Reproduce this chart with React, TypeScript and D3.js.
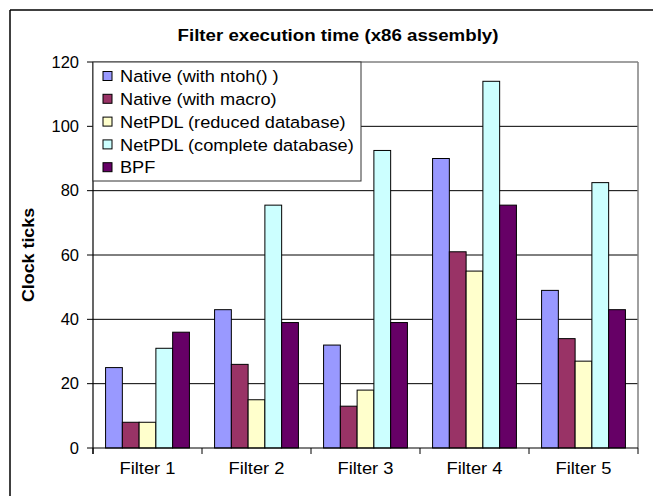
import React from "react";
import * as d3 from "d3";

const categories = ["Filter 1", "Filter 2", "Filter 3", "Filter 4", "Filter 5"];
const seriesNames = [
  "Native (with ntoh() )",
  "Native (with macro)",
  "NetPDL (reduced database)",
  "NetPDL (complete database)",
  "BPF",
];
const seriesColors = ["#9999FF", "#993366", "#FFFFCC", "#CCFFFF", "#660066"];
const nativeNtoh = [25, 43, 32, 90, 49];
const nativeMacro = [8, 26, 13, 61, 34];
const netpdlReduced = [8, 15, 18, 55, 27];
const netpdlComplete = [31, 75.5, 92.5, 114, 82.5];
const bpf = [36, 39, 39, 75.5, 43];
const yTicks = [0, 20, 40, 60, 80, 100, 120];
const title = "Filter execution time (x86 assembly)";
const yTitle = "Clock ticks";

const seriesValues = [nativeNtoh, nativeMacro, netpdlReduced, netpdlComplete, bpf];

const W = 653;
const H = 496;
const plot = { left: 93, right: 638, top: 62, bottom: 448 };
const FONT = "'Liberation Sans', Arial, sans-serif";

export default function App() {
  const x = d3.scaleBand<string>().domain(categories).range([plot.left, plot.right]).padding(0);
  const y = d3.scaleLinear().domain([0, 120]).range([plot.bottom, plot.top]);
  const bw = x.bandwidth() / (seriesNames.length + 1.5);
  const inner = d3
    .scaleBand<number>()
    .domain(d3.range(seriesNames.length))
    .range([0, bw * seriesNames.length]);
  const groupOffset = (x.bandwidth() - bw * seriesNames.length) / 2;
  const boundaries = categories.map((c) => x(c) as number).concat([plot.right]);

  return (
    <svg
      width={W}
      height={H}
      style={{ position: "absolute", left: 0, top: 0, background: "#fff" }}
      fontFamily={FONT}
    >
      <rect x={0} y={0} width={W} height={H} fill="#fff" />
      {/* outer chart border */}
      <line x1={10} y1={10} x2={W} y2={10} stroke="#000" strokeWidth={1.5} />
      <line x1={10} y1={10} x2={10} y2={H} stroke="#000" strokeWidth={1.5} />

      <text
        transform="translate(338,41) scale(1.1,1)"
        textAnchor="middle"
        fontWeight="bold"
        fontSize={17}
        fill="#000"
      >
        {title}
      </text>

      {/* gridlines */}
      {yTicks
        .filter((t) => t > 0 && t < 120)
        .map((t) => (
          <line key={t} x1={plot.left} x2={plot.right} y1={y(t)} y2={y(t)} stroke="#000" strokeWidth={1} />
        ))}
      {/* plot border top/right */}
      <line x1={plot.left} x2={plot.right} y1={plot.top} y2={plot.top} stroke="#808080" strokeWidth={1.5} />
      <line x1={plot.right} x2={plot.right} y1={plot.top} y2={plot.bottom} stroke="#808080" strokeWidth={1.5} />

      {/* bars */}
      {categories.map((c, ci) => (
        <g key={c}>
          {seriesValues.map((vals, si) => (
            <rect
              key={si}
              x={(x(c) as number) + groupOffset + (inner(si) as number)}
              y={y(vals[ci])}
              width={inner.bandwidth()}
              height={plot.bottom - y(vals[ci])}
              fill={seriesColors[si]}
              stroke="#000"
              strokeWidth={1}
            />
          ))}
        </g>
      ))}

      {/* y axis */}
      <line x1={plot.left} x2={plot.left} y1={plot.top} y2={plot.bottom + 6} stroke="#000" strokeWidth={1.2} />
      {yTicks.map((t) => (
        <g key={t}>
          <line x1={plot.left - 6} x2={plot.left} y1={y(t)} y2={y(t)} stroke="#000" strokeWidth={1} />
          <text x={79} y={y(t)} dy="0.35em" textAnchor="end" fontSize={16.5} fill="#000">
            {t}
          </text>
        </g>
      ))}
      {/* x axis */}
      <line x1={plot.left} x2={plot.right} y1={plot.bottom} y2={plot.bottom} stroke="#000" strokeWidth={1.2} />
      {boundaries.map((b, i) => (
        <line key={i} x1={b} x2={b} y1={plot.bottom} y2={plot.bottom + 6} stroke="#000" strokeWidth={1} />
      ))}
      {categories.map((c) => (
        <text
          key={c}
          transform={`translate(${(x(c) as number) + x.bandwidth() / 2},474) scale(1.08,1)`}
          textAnchor="middle"
          fontSize={17}
          fill="#000"
        >
          {c}
        </text>
      ))}

      <text
        transform={`translate(34,255) rotate(-90) scale(1.05,1)`}
        textAnchor="middle"
        fontWeight="bold"
        fontSize={17}
        fill="#000"
      >
        {yTitle}
      </text>

      {/* legend */}
      <rect x={plot.left} y={plot.top} width={268} height={119} fill="#fff" stroke="#333" strokeWidth={1} />
      {seriesNames.map((n, i) => (
        <g key={n} transform={`translate(${plot.left}, ${76 + i * 22.8})`}>
          <rect x={10} y={-4.5} width={9} height={9} fill={seriesColors[i]} stroke="#000" strokeWidth={1} />
          <text transform="translate(27,0) scale(1.07,1)" dy="0.36em" fontSize={17} fill="#000">
            {n}
          </text>
        </g>
      ))}
    </svg>
  );
}
